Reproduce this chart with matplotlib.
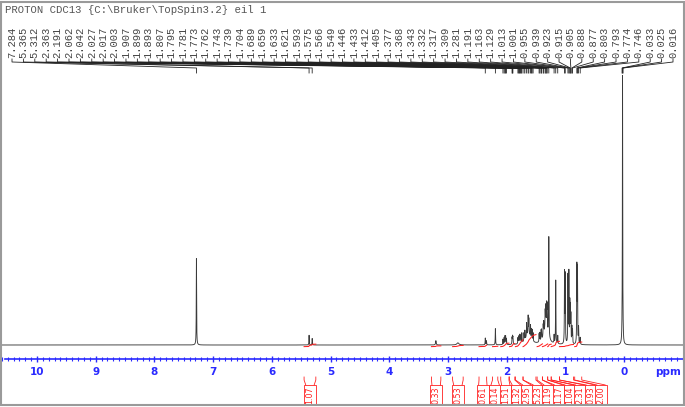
import numpy as np
import matplotlib
matplotlib.use('Agg')
import matplotlib.pyplot as plt
from matplotlib.patches import Rectangle
from matplotlib.ticker import MultipleLocator

# --- data ---
title = r"PROTON CDC13 {C:\Bruker\TopSpin3.2} eil 1"

# picked peaks (ppm) shown in the label row
label_ppm = [7.284, 5.365, 5.312, 2.363, 2.191, 2.062, 2.042, 2.027, 2.017, 2.003,
             1.907, 1.899, 1.893, 1.807, 1.795, 1.781, 1.773, 1.762, 1.743, 1.739,
             1.704, 1.689, 1.659, 1.633, 1.621, 1.593, 1.575, 1.566, 1.549, 1.446,
             1.433, 1.412, 1.405, 1.377, 1.368, 1.343, 1.332, 1.317, 1.309, 1.281,
             1.191, 1.163, 1.129, 1.013, 1.001, 0.955, 0.939, 0.923, 0.915, 0.905,
             0.888, 0.877, 0.803, 0.793, 0.774, 0.746, 0.033, 0.025, 0.016]

# relative line heights (TMS = 100) for the picked peaks
label_height = [32, 3.6, 2.4, 2.5, 6.0, 2.0, 2.5, 3.0, 3.0, 2.2,
                2.4, 2.6, 2.4, 2.2, 2.6, 2.8, 2.8, 2.6, 2.6, 2.4,
                3.0, 3.5, 5.0, 6.5, 5.5, 4.5, 3.5, 3.5, 3.0, 3.0,
                3.2, 3.4, 3.4, 4.0, 4.5, 6.0, 7.0, 8.0, 8.5, 37,
                3.0, 23.5, 3.0, 26, 25, 25, 26, 14, 12, 10,
                6, 5, 28, 27, 6, 2.5, 2, 100, 2]

# unpicked / broad signals
broad_ppm = [3.205, 2.83, 2.345, 1.63, 1.33]
broad_height = [1.6, 0.8, 1.5, 4.0, 7.0]
broad_width = [0.006, 0.02, 0.004, 0.05, 0.04]

# integrals
int_value = [1.07, 0.33, 0.53, 0.61, 0.14, 1.51, 1.32, 2.95, 5.23, 1.19, 1.17, 1.04, 2.31, 0.93, 2.00]
int_from = [5.45, 3.28, 2.92, 2.47, 2.24, 2.10, 1.95, 1.85, 1.72, 1.48, 1.39, 1.30, 1.24, 1.10, 0.84]
int_to = [5.25, 3.12, 2.74, 2.34, 2.15, 1.96, 1.86, 1.72, 1.50, 1.39, 1.30, 1.24, 1.10, 0.86, 0.72]

# --- layout ---
W, H = 685, 407
PXPPM = 58.7          # pixels per ppm
X0 = 624.0            # pixel of 0 ppm
def px2ppm(p):
    return (X0 - p) / PXPPM
xl, xr = px2ppm(0), px2ppm(W)
blue = '#2a2aff'
red = '#ff2020'

ppm = np.linspace(10.6, -1.05, 60000)
spec = np.zeros_like(ppm)
for p, h in zip(label_ppm, label_height):
    spec += h / (1 + ((ppm - p) / 0.0032) ** 2)
for p, h, w in zip(broad_ppm, broad_height, broad_width):
    spec += h / (1 + ((ppm - p) / w) ** 2)

fig = plt.figure(figsize=(W / 100, H / 100), dpi=100)

# spectrum axes: y=0 at pixel 345, 2.7 px per unit
base_px = 345.0
ymin, ymax = -1.0, 100.0
bot_px = base_px - ymin * 2.7
ax = fig.add_axes([0, (H - bot_px) / H, 1, (ymax - ymin) * 2.7 / H])
ax.patch.set_alpha(0)
ax.set_xlim(xl, xr)
ax.set_ylim(ymin, ymax)
ax.plot(ppm, spec, color='#3a3a3a', lw=0.65)

# integral curves
for v, a, b in zip(int_value, int_from, int_to):
    m = (ppm <= a) & (ppm >= b)
    c = np.cumsum(spec[m])
    c = c / c[-1] * v * 0.85 - 0.6
    ax.plot(ppm[m], c, color=red, lw=0.75)

for s in ['top', 'left', 'right']:
    ax.spines[s].set_visible(False)
ax.spines['bottom'].set_position(('outward', (359 - bot_px) * 0.72))
ax.spines['bottom'].set_bounds(10.55, -1.0)
ax.spines['bottom'].set_color(blue)
ax.spines['bottom'].set_linewidth(1.2)
ax.set_yticks([])
ax.set_xticks(range(0, 11))
ax.set_xticklabels([str(i) for i in range(0, 11)])
ax.xaxis.set_minor_locator(MultipleLocator(0.1))
ax.tick_params(axis='x', which='major', direction='inout', length=5, width=1,
               color=blue, labelcolor=blue, labelsize=7.5, pad=3)
ax.tick_params(axis='x', which='minor', direction='inout', length=2.5, width=0.8, color=blue)
for t in ax.get_xticklabels():
    t.set_fontweight('bold')

# overlay in (ppm, pixel-row) coordinates
ov = fig.add_axes([0, 0, 1, 1])
ov.set_xlim(xl, xr)
ov.set_ylim(H, 0)
ov.axis('off')

ov.text(px2ppm(5), 10, title, family='Liberation Mono', fontsize=7.7,
        color='#555555', ha='left', va='center')
ov.text(px2ppm(668), 372, 'ppm', color=blue, fontsize=7.5, fontweight='bold',
        ha='center', va='center')

# peak label fan
lab_x = px2ppm(np.linspace(12, 673, len(label_ppm)))
for lx, p in zip(lab_x, label_ppm):
    ov.text(lx, 57.5, f'{p:.3f}', rotation=90, family='Liberation Mono', fontsize=7.6,
            color='#444444', ha='center', va='bottom')
    ov.plot([lx, lx, p, p], [59, 62, 68, 73], color='#222222', lw=0.6)

# integral labels below axis
gap = 10.6 / PXPPM
box_x = []
for a, b in zip(int_from, int_to):
    c = (a + b) / 2
    if box_x and c > box_x[-1] - gap:
        c = box_x[-1] - gap
    box_x.append(c)
hw = 4.2 / PXPPM
for v, a, b, bx in zip(int_value, int_from, int_to, box_x):
    ov.plot([a, a, bx + hw, bx + hw], [377, 380, 385, 388], color=red, lw=0.6)
    ov.plot([b, b, bx - hw, bx - hw], [377, 380, 385, 388], color=red, lw=0.6)
    ov.text(bx, 395, f'{v:.2f}', rotation=90, fontsize=5.8, color=red,
            ha='center', va='center',
            bbox=dict(boxstyle='square,pad=0.15', fc='white', ec=red, lw=0.6))

fig.patches.append(Rectangle((0.8 / W, (H - 404.5) / H), 683 / W, 403 / H,
                             transform=fig.transFigure, fill=False,
                             ec='#9a9a9a', lw=1.5))

fig.savefig('out.png', dpi=100)
